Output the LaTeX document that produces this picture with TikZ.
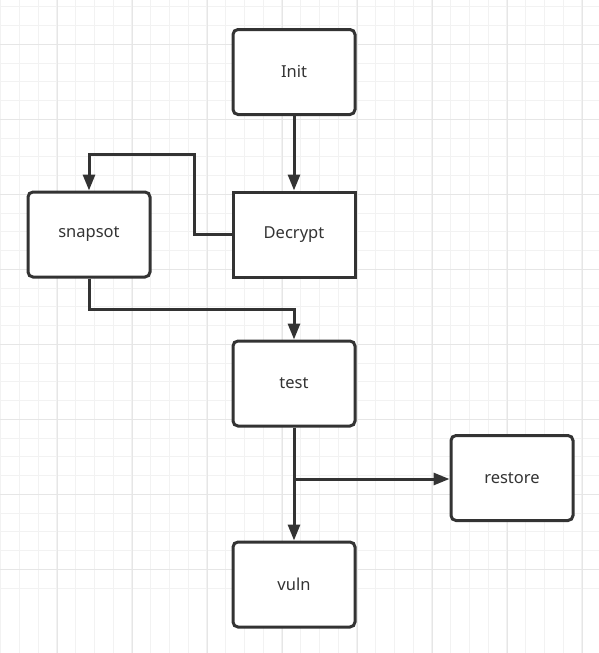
\documentclass[tikz,border=0pt]{standalone}
\usepackage{fontspec}
\setmainfont{Noto Sans}
\usepackage{tikz}
\usetikzlibrary{arrows.meta,positioning}

\definecolor{ink}{HTML}{333333}
\definecolor{gridminor}{HTML}{F2F2F2}
\definecolor{gridmajor}{HTML}{E6E6E6}

\begin{document}
\begin{tikzpicture}[
      x=1pt, y=-1pt,
      block/.style={draw=ink, line width=3pt, fill=white, rounded corners=5pt,
                    minimum width=122pt, minimum height=85pt, inner sep=0pt,
                    text=ink, font=\fontsize{16.5}{18}\selectfont},
      sharp/.style={block, rounded corners=0pt},
      msg/.style={-{Triangle[length=16pt,width=12pt]}, line width=3pt, draw=ink},
    ]
    % page and grid
    \fill[white] (0,0) rectangle (599,653);
    \useasboundingbox (0,0) rectangle (599,653);
    \foreach \k in {0,...,31} {
      \draw[gridminor, line width=1pt] ({0.7+18.75*\k},0) -- ({0.7+18.75*\k},653);
      \draw[gridminor, line width=1pt] (0,{6.8+18.75*\k}) -- (599,{6.8+18.75*\k});
    }
    \foreach \k in {0,...,7} {
      \draw[gridmajor, line width=1pt] ({57+75*\k},0) -- ({57+75*\k},653);
      \draw[gridmajor, line width=1pt] (0,{44.3+75*\k}) -- (599,{44.3+75*\k});
    }

    % boxes
    \node[block] (init) at (294,72) {Init};
    \node[sharp] (dec) at (294,234.5) {Decrypt};
    \node[block] (snap) at (89,234.5) {snapsot};
    \node[block] (test) at (294,383.5) {test};
    \node[block] (rest) at (512,478) {restore};
    \node[block] (vuln) at (294,584.5) {vuln};

    \coordinate (loop) at (194,154);
    \coordinate (join) at (294,309);
    \coordinate (fork) at (294,479);

    % connectors
    \draw[msg] (init) -- (dec);
    \draw[msg] (dec.west) -| (loop) -| (snap.north);
    \draw[msg] (snap.south) |- (join) -- (test.north);
    \draw[msg] (test) -- (vuln);
    \draw[msg] (fork) -- (rest.west |- fork);
  \end{tikzpicture}
\end{document}
